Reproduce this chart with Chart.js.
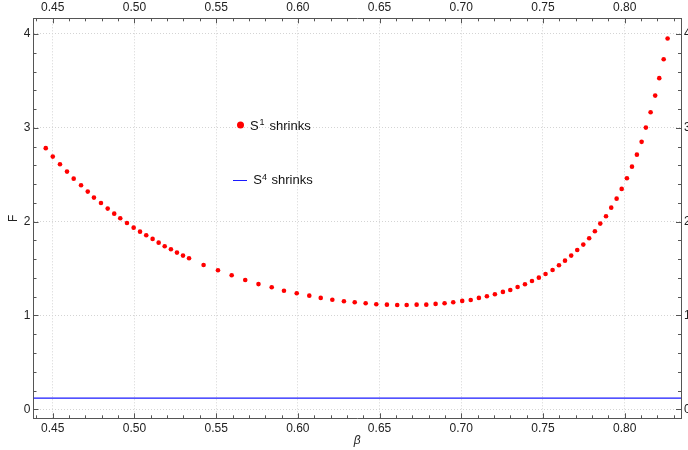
<!DOCTYPE html>
<html>
<head>
<meta charset="utf-8">
<script src="https://cdn.jsdelivr.net/npm/chart.js@4"></script>
<style>
  html, body { margin: 0; padding: 0; background: #fff; }
  #wrap { width: 688px; height: 450px; }
</style>
</head>
<body>
<div id="wrap"><canvas id="chart"></canvas></div>
<script>
// S^1 shrinks: F against beta
const beta = [
  0.4457, 0.4500, 0.4544, 0.4587, 0.4628, 0.4673, 0.4714, 0.4752, 0.4795, 0.4836,
  0.4876, 0.4913, 0.4954, 0.4995, 0.5034, 0.5072, 0.5111, 0.5148, 0.5185, 0.5223,
  0.5260, 0.5297, 0.5334, 0.5423, 0.5511, 0.5595, 0.5678, 0.5759, 0.5840, 0.5915,
  0.5993, 0.6070, 0.6140, 0.6211, 0.6282, 0.6348, 0.6415, 0.6480, 0.6545, 0.6608,
  0.6666, 0.6727, 0.6786, 0.6843, 0.6898, 0.6951, 0.7006, 0.7058, 0.7108, 0.7157,
  0.7206, 0.7255, 0.7300, 0.7345, 0.7390, 0.7433, 0.7475, 0.7516, 0.7559, 0.7598,
  0.7635, 0.7673, 0.7710, 0.7747, 0.7783, 0.7818, 0.7851, 0.7886, 0.7918, 0.7951,
  0.7982, 0.8014, 0.8045, 0.8075, 0.8104, 0.8130, 0.8159, 0.8187, 0.8212, 0.8239,
  0.8263
];
const fS1 = [
  2.783, 2.693, 2.612, 2.533, 2.458, 2.388, 2.320, 2.256, 2.199, 2.139,
  2.085, 2.036, 1.986, 1.936, 1.893, 1.855, 1.816, 1.776, 1.738, 1.706,
  1.670, 1.638, 1.610, 1.538, 1.482, 1.429, 1.378, 1.334, 1.301, 1.264,
  1.237, 1.211, 1.187, 1.168, 1.151, 1.141, 1.130, 1.119, 1.115, 1.112,
  1.112, 1.115, 1.115, 1.123, 1.130, 1.141, 1.155, 1.165, 1.187, 1.205,
  1.226, 1.251, 1.272, 1.304, 1.333, 1.368, 1.403, 1.442, 1.485, 1.535,
  1.584, 1.638, 1.698, 1.755, 1.823, 1.898, 1.979, 2.058, 2.149, 2.245,
  2.349, 2.463, 2.586, 2.714, 2.850, 3.002, 3.166, 3.343, 3.529, 3.731,
  3.951
];

// S^4 shrinks: flat line
const betaS4 = [0.4382, 0.8345];
const fS4 = [0.12, 0.12];

const xTicks = [0.45, 0.50, 0.55, 0.60, 0.65, 0.70, 0.75, 0.80];
const yTicks = [0, 1, 2, 3, 4];

const X_MIN = 0.4382, X_MAX = 0.8345;
const Y_MIN = -0.096, Y_MAX = 4.167;

Chart.defaults.font.family = '"Liberation Sans", Arial, sans-serif';
Chart.defaults.font.size = 12;
Chart.defaults.color = '#222';

const FRAME = '#555';

// inward major/minor ticks on all four sides of the frame
const frameTicks = {
  id: 'frameTicks',
  afterDatasetsDraw(chart) {
    const { ctx, chartArea: a, scales } = chart;
    ctx.save();
    ctx.strokeStyle = FRAME;
    ctx.lineWidth = 1;
    ctx.beginPath();
    for (let i = 44; i <= 83; i++) {
      const px = Math.round(scales.x.getPixelForValue(i / 100)) + 0.5;
      const len = i % 5 === 0 ? 5 : 3;
      ctx.moveTo(px, a.bottom); ctx.lineTo(px, a.bottom - len);
      ctx.moveTo(px, a.top); ctx.lineTo(px, a.top + len);
    }
    for (let i = 0; i <= 20; i++) {
      const py = Math.round(scales.y.getPixelForValue(i / 5)) + 0.5;
      if (py < a.top) continue;
      const len = i % 5 === 0 ? 5 : 3;
      ctx.moveTo(a.left, py); ctx.lineTo(a.left + len, py);
      ctx.moveTo(a.right, py); ctx.lineTo(a.right - len, py);
    }
    ctx.stroke();
    ctx.restore();
  }
};

// legend placed inside the plot like the original
const insideLegend = {
  id: 'insideLegend',
  afterDraw(chart) {
    const ctx = chart.ctx;
    const fam = '"Liberation Sans", Arial, sans-serif';
    ctx.save();
    ctx.textBaseline = 'alphabetic';
    ctx.textAlign = 'left';

    ctx.fillStyle = '#ff0000';
    ctx.beginPath();
    ctx.arc(240.5, 125, 3.5, 0, Math.PI * 2);
    ctx.fill();

    ctx.fillStyle = '#111';
    ctx.font = '13px ' + fam;
    ctx.fillText('S', 250, 129.5);
    ctx.font = '9px ' + fam;
    ctx.fillText('1', 259.5, 125);
    ctx.font = '13px ' + fam;
    ctx.fillText('shrinks', 269.5, 129.5);

    ctx.strokeStyle = '#1a1aff';
    ctx.lineWidth = 1;
    ctx.beginPath();
    ctx.moveTo(233, 180.5);
    ctx.lineTo(247, 180.5);
    ctx.stroke();

    ctx.font = '13px ' + fam;
    ctx.fillText('S', 253.3, 184.3);
    ctx.font = '9px ' + fam;
    ctx.fillText('4', 262, 179.8);
    ctx.font = '13px ' + fam;
    ctx.fillText('shrinks', 271.5, 184.3);
    ctx.restore();
  }
};

const gridOpts = { color: '#d4d4d4', lineWidth: 1, drawTicks: false };
const borderOpts = { display: true, color: FRAME, width: 1, dash: [1, 2] };

new Chart(document.getElementById('chart'), {
  type: 'scatter',
  data: {
    datasets: [
      {
        label: 'S1 shrinks',
        data: beta.map((b, i) => ({ x: b, y: fS1[i] })),
        backgroundColor: '#ff0000',
        borderWidth: 0,
        pointRadius: 2.3,
        showLine: false
      },
      {
        label: 'S4 shrinks',
        data: betaS4.map((b, i) => ({ x: b, y: fS4[i] })),
        borderColor: '#1a1aff',
        borderWidth: 1.2,
        pointRadius: 0,
        showLine: true
      }
    ]
  },
  options: {
    responsive: true,
    maintainAspectRatio: false,
    animation: false,
    devicePixelRatio: 1,
    layout: { padding: 0 },
    plugins: { legend: { display: false }, tooltip: { enabled: false } },
    scales: {
      x: {
        type: 'linear', position: 'bottom', min: X_MIN, max: X_MAX,
        afterBuildTicks: s => { s.ticks = xTicks.map(v => ({ value: v })); },
        afterFit: s => { s.height = 31.7; },
        ticks: { callback: v => v.toFixed(2), padding: 3, maxRotation: 0, autoSkip: false },
        grid: gridOpts,
        border: borderOpts,
        title: { display: true, text: 'β', font: { style: 'italic', size: 12 }, padding: { top: 0, bottom: 2 } }
      },
      x2: {
        type: 'linear', position: 'top', min: X_MIN, max: X_MAX,
        afterBuildTicks: s => { s.ticks = xTicks.map(v => ({ value: v })); },
        afterFit: s => { s.height = 18.3; },
        ticks: { callback: v => v.toFixed(2), padding: 3, maxRotation: 0, autoSkip: false },
        grid: { display: false, drawTicks: false },
        border: borderOpts
      },
      y: {
        type: 'linear', position: 'left', min: Y_MIN, max: Y_MAX,
        afterBuildTicks: s => { s.ticks = yTicks.map(v => ({ value: v })); },
        afterFit: s => { s.width = 33.5; },
        ticks: { callback: v => String(v), padding: 3 },
        grid: gridOpts,
        border: borderOpts,
        title: { display: true, text: 'F', font: { size: 12 }, padding: { top: 6, bottom: 0 } }
      },
      y2: {
        type: 'linear', position: 'right', min: Y_MIN, max: Y_MAX,
        afterBuildTicks: s => { s.ticks = yTicks.map(v => ({ value: v })); },
        afterFit: s => { s.width = 7; },
        ticks: { callback: v => String(v), padding: 3 },
        grid: { display: false, drawTicks: false },
        border: borderOpts
      }
    }
  },
  plugins: [frameTicks, insideLegend]
});
</script>
</body>
</html>
